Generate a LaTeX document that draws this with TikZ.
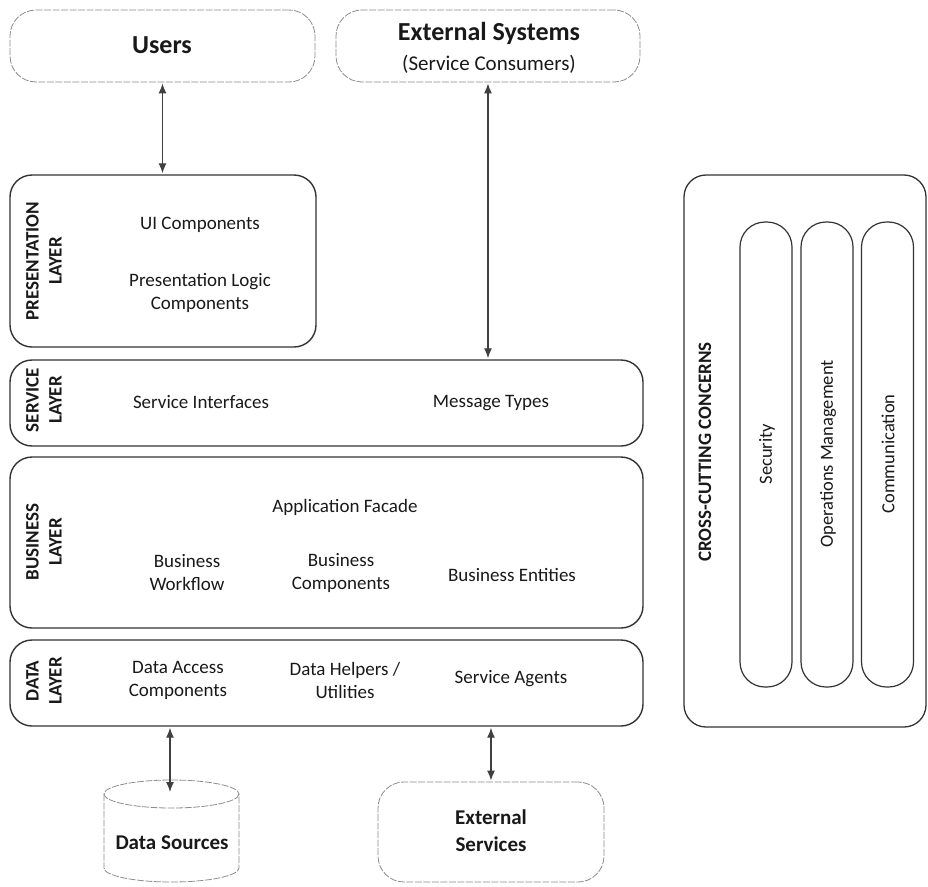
\documentclass[tikz,border=0pt]{standalone}
\usepackage{fontspec}
\setmainfont{Carlito}
\usetikzlibrary{arrows.meta}
\begin{document}
\begin{tikzpicture}[x=1pt,y=-1pt,
  layerbox/.style={draw=black!80, line width=1.4pt, rounded corners=22pt, inner sep=0pt},
  softbox/.style={draw=black!45, line width=0.8pt, dash pattern=on 7pt off 1.5pt, rounded corners=26pt, inner sep=0pt},
  pillbox/.style={draw=black!80, line width=1.2pt, rounded corners=25pt, inner sep=0pt, minimum width=52pt, minimum height=465pt},
  txt/.style={font=\fontsize{19}{23}\selectfont, align=center, text=black!90, inner sep=0pt},
  lbl/.style={font=\fontsize{19}{23}\selectfont\bfseries, align=center, rotate=90, text=black!90, inner sep=0pt},
  ptxt/.style={font=\fontsize{18.5}{22}\selectfont, rotate=90, text=black!90, inner sep=0pt},
  title/.style={font=\fontsize{26}{30}\selectfont\bfseries, text=black!90, inner sep=0pt},
  btxt/.style={font=\fontsize{21}{27}\selectfont\bfseries, align=center, text=black!90, inner sep=0pt},
  arr/.style={draw=black!75, line width=1.3pt, {Latex[length=10pt,width=8pt]}-{Latex[length=10pt,width=8pt]}, shorten <=1pt, shorten >=1pt}
]
\useasboundingbox (0,0) rectangle (928,886);

% top boxes
\node[softbox, minimum width=305pt, minimum height=72pt] (users) at (162.5,46) {};
\node[title] (userst) at (162,45) {Users};
\node[softbox, minimum width=304pt, minimum height=72pt] (ext) at (488,46) {};
\node[title] (extt) at (489,33) {External Systems};
\node[txt, font=\fontsize{21}{25}\selectfont] (exts) at (489,64) {(Service Consumers)};

% presentation layer
\node[layerbox, minimum width=306pt, minimum height=172pt] (pres) at (163,261) {};
\node[lbl] (presl) at (44,261) {PRESENTATION\\LAYER};
\node[txt] (ui) at (200,225) {UI Components};
\node[txt] (plc) at (200,293) {Presentation Logic\\Components};

% service layer
\node[layerbox, minimum width=633pt, minimum height=86pt] (svc) at (326.5,403) {};
\node[lbl] (svcl) at (44,400) {SERVICE\\LAYER};
\node[txt] (si) at (201,402) {Service Interfaces};
\node[txt] (mt) at (491,403) {Message Types};

% business layer
\node[layerbox, minimum width=633pt, minimum height=171pt] (bus) at (326.5,542.5) {};
\node[lbl] (busl) at (44,542) {BUSINESS\\LAYER};
\node[txt] (af) at (345,507) {Application Facade};
\node[txt] (bw) at (187,573) {Business\\Workflow};
\node[txt] (bc) at (341,573) {Business\\Components};
\node[txt] (be) at (512,575) {Business Entities};

% data layer
\node[layerbox, minimum width=633pt, minimum height=86pt] (data) at (326.5,683) {};
\node[lbl] (datal) at (44,681) {DATA\\LAYER};
\node[txt] (dac) at (178,680) {Data Access\\Components};
\node[txt] (dhu) at (345,680) {Data Helpers /\\Utilities};
\node[txt] (sa) at (511,679) {Service Agents};

% data sources cylinder
\draw[draw=black!45, line width=0.8pt, dash pattern=on 7pt off 1.5pt]
  (104,794) -- (104,868) arc[start angle=180, end angle=0, x radius=67.5, y radius=14] -- (239,794);
\draw[draw=black!45, line width=0.8pt, dash pattern=on 7pt off 1.5pt]
  (171.5,794) ellipse [x radius=67.5, y radius=14];
\node[btxt] (ds) at (172,843) {Data Sources};
\coordinate (dsarr) at (170,793);

% external services
\node[softbox, minimum width=226pt, minimum height=100pt] (extsvc) at (491,832) {};
\node[btxt] (extsvct) at (491,831) {External\\Services};

% cross-cutting concerns
\node[layerbox, line width=1.3pt, minimum width=242pt, minimum height=552pt] (cc) at (805,451) {};
\node[lbl] (ccl) at (705,452) {CROSS-CUTTING CONCERNS};
\node[pillbox] (sec) at (766,454.5) {};
\node[pillbox] (ops) at (827,454.5) {};
\node[pillbox] (com) at (887.5,454.5) {};
\node[ptxt] (sect) at (767,454) {Security};
\node[ptxt] (opst) at (828,454) {Operations Management};
\node[ptxt] (comt) at (888,454) {Communication};

% connectors
\draw[arr] (users.south) -- (users.south |- pres.north);
\draw[arr] (ext.south) -- (ext.south |- svc.north);
\draw[arr] (dsarr |- data.south) -- (dsarr);
\draw[arr] (extsvc.north |- data.south) -- (extsvc.north);
\end{tikzpicture}
\end{document}
